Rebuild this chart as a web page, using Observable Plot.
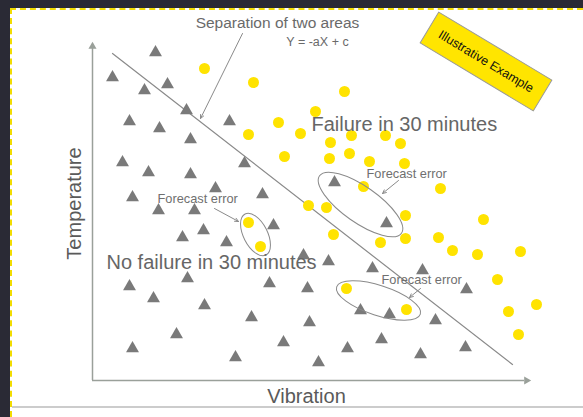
<!DOCTYPE html>
<html>
<head>
<meta charset="utf-8">
<script src="https://cdn.jsdelivr.net/npm/d3@7"></script>
<script src="https://cdn.jsdelivr.net/npm/@observablehq/plot@0.6"></script>
<style>
  html, body { margin: 0; padding: 0; }
  body { width: 583px; height: 417px; overflow: hidden; position: relative; background: #2a2a35; }
  #paper { position: absolute; left: 10px; top: 8px; right: 0; bottom: 0; background: #fff;
           border-top: 2px dashed #f2dc00; border-left: 2px dashed #f2dc00; }
  #rule { position: absolute; left: 12px; right: 0; top: 406px; height: 2px; background: #cccccc; }
  #chart { position: absolute; left: 0; top: 0; }
  #chart svg { background: transparent; overflow: visible; }
</style>
</head>
<body>
<div id="paper"></div>
<div id="rule"></div>
<div id="chart"></div>
<script>
// Illustrative data (vibration, temperature) in arbitrary units
const noFailure = [
  [63,328],[20,303],[52,290],[75,296],[94,270],[37,259],[67,252],[98,241],[137,259],
  [30,218],[56,208],[98,206],[152,217],[40,183],[123,192],[66,170],[102,170],[90,143],
  [111,150],[134,138],[95,102],[37,94],[61,82],[112,75],[84,46],[40,32],[143,23],
  [170,186],[242,198],[181,155],[294,157],[211,125],[236,119],[280,112],[177,97],[215,92],
  [268,70],[297,66],[159,63],[217,58],[191,38],[255,32],[289,41],[226,18],[330,110],
  [374,91],[343,60],[373,33],[328,26]
];
const failure = [
  [112,312],[161,298],[252,289],[223,269],[186,258],[156,246],[208,247],[259,245],[293,245],
  [238,238],[192,224],[237,222],[257,227],[277,219],[308,237],[312,217],[271,194],[348,192],
  [216,175],[234,173],[313,165],[391,161],[156,158],[168,134],[241,146],[288,138],[313,142],
  [346,143],[360,130],[385,126],[428,129],[254,92],[314,71],[405,101],[444,76],[416,69],[426,46]
];
// Separation line Y = -aX + c
const separator = [[20,327],[420,16]];
// Annotation arrows [x1,y1,x2,y2]
const pointers = [
  [150,347,108,262],
  [122,172,146,159],
  [306,200,290,187],
  [328,92,317,83]
];
// Forecast-error groups (centers)
const errorGroups = [[268,176],[163,146],[286,80]];
const errorLabels = [[65,182],[274,207],[289,101]];
const axisEnds = { x: 434, y: 334 };

const ellShapes = [
  {rx: 50, ry: 18, rot: 35},
  {rx: 23, ry: 12, rot: 63},
  {rx: 44, ry: 15, rot: 18}
];
function ellipseSymbol(rx, ry) {
  const k = 0.5523;
  return { draw(ctx) {
    ctx.moveTo(rx, 0);
    ctx.bezierCurveTo(rx, ry*k, rx*k, ry, 0, ry);
    ctx.bezierCurveTo(-rx*k, ry, -rx, ry*k, -rx, 0);
    ctx.bezierCurveTo(-rx, -ry*k, -rx*k, -ry, 0, -ry);
    ctx.bezierCurveTo(rx*k, -ry, rx, -ry*k, rx, 0);
    ctx.closePath();
  }};
}
function rectSymbol(w, h) {
  return { draw(ctx) {
    ctx.moveTo(-w/2, -h/2); ctx.lineTo(w/2, -h/2); ctx.lineTo(w/2, h/2); ctx.lineTo(-w/2, h/2); ctx.closePath();
  }};
}

const font = "Liberation Sans, Arial, sans-serif";
const gray = "#8a8a8a";
const axisColor = "#9aa09a";

const marks = [
  // axes
  Plot.ruleX([0], {y1: 0, y2: axisEnds.y - 2, stroke: axisColor, strokeWidth: 1.5}),
  Plot.ruleY([0], {x1: 0, x2: axisEnds.x - 2, stroke: axisColor, strokeWidth: 1.5}),
  Plot.dot([[0, axisEnds.y]], {x: d => d[0], y: d => d[1], symbol: "triangle", r: 3, fill: axisColor, rotate: 0}),
  Plot.dot([[axisEnds.x, 0]], {x: d => d[0], y: d => d[1], symbol: "triangle", r: 3, fill: axisColor, rotate: 90}),
  // separation line
  Plot.line(separator, {x: d => d[0], y: d => d[1], stroke: gray, strokeWidth: 1.2}),
  // points
  Plot.dot(noFailure, {x: d => d[0], y: d => d[1], symbol: "triangle", r: 4.8, fill: "#7a7a7a"}),
  Plot.dot(failure, {x: d => d[0], y: d => d[1], r: 5.5, fill: "#ffe300"}),
  // ellipses
  ...errorGroups.map((c, i) => Plot.dot([c], {x: d => d[0], y: d => d[1], r: 1,
      symbol: ellipseSymbol(ellShapes[i].rx, ellShapes[i].ry), rotate: ellShapes[i].rot,
      fill: "none", stroke: gray, strokeWidth: 1})),
  // arrows
  Plot.arrow(pointers, {x1: d => d[0], y1: d => d[1], x2: d => d[2], y2: d => d[3],
      stroke: gray, strokeWidth: 1, headLength: 6, headAngle: 50}),
  // labels
  Plot.text(["Separation of two areas"], {x: 185, y: 357, text: d => d, fontSize: 15.5, fill: "#6a6a6a", fontFamily: font}),
  Plot.text(["Y = -aX + c"], {x: 225, y: 339, text: d => d, fontSize: 12.5, fill: "#6a6a6a", fontFamily: font}),
  Plot.text(["Failure in 30 minutes"], {x: 219, y: 256.4, text: d => d, textAnchor: "start", fontSize: 20, fill: "#666", fontFamily: font}),
  Plot.text(["No failure in 30 minutes"], {x: 14, y: 118.4, text: d => d, textAnchor: "start", fontSize: 20, fill: "#666", fontFamily: font}),
  Plot.text(errorLabels, {x: d => d[0], y: d => d[1], text: () => "Forecast error", textAnchor: "start", fontSize: 12.8, fill: "#6f6f6f", fontFamily: font}),
  Plot.text(["Vibration"], {x: 214, y: -15.6, text: d => d, fontSize: 20, fill: "#5a5a5a", fontFamily: font}),
  Plot.text(["Temperature"], {x: -18.4, y: 177, text: d => d, rotate: -90, fontSize: 20, fill: "#5a5a5a", fontFamily: font}),
  // illustrative badge
  Plot.dot([[393.5, 319]], {x: d => d[0], y: d => d[1], r: 1, symbol: rectSymbol(132, 36), rotate: 31,
      fill: "#ffe500", stroke: "#9a9a9a", strokeWidth: 1}),
  Plot.text(["Illustrative Example"], {x: 393.5, y: 319, text: d => d, rotate: 31, fontSize: 12.5, fill: "#111", fontFamily: font})
];

const chart = Plot.plot({
  width: 583,
  height: 417,
  margin: 0,
  x: {domain: [-92, 491], axis: null},
  y: {domain: [-37, 380], axis: null},
  style: {background: "transparent", fontFamily: font},
  marks
});
document.getElementById("chart").append(chart);
</script>
</body>
</html>
